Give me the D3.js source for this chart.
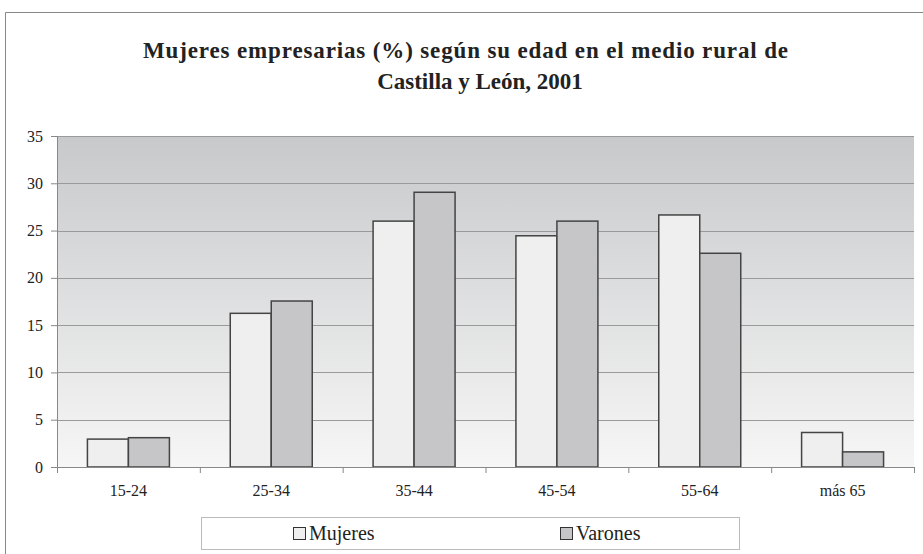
<!DOCTYPE html>
<html>
<head>
<meta charset="utf-8">
<script src="https://cdn.jsdelivr.net/npm/d3@7"></script>
<style>
  body { margin: 0; background: #fff; }
  svg text { font-family: 'Liberation Serif', 'Times New Roman', Tinos, 'DejaVu Serif', serif !important; }
</style>
</head>
<body>
<svg id="chart" width="923" height="554"></svg>
<script>
// age groups and percentages
var categories = ['15-24', '25-34', '35-44', '45-54', '55-64', 'más 65'];
var mujeres = [2.95, 16.25, 26.0, 24.45, 26.65, 3.65];
var varones = [3.1, 17.55, 29.05, 26.0, 22.6, 1.6];
var seriesNames = ['Mujeres', 'Varones'];
var yTicks = [0, 5, 10, 15, 20, 25, 30, 35];

var colors = { Mujeres: '#efefef', Varones: '#c6c6c8' };

var svg = d3.select('#chart');
var margin = { left: 57, right: 9, top: 136, bottom: 87 };
var width = 923 - margin.left - margin.right;
var height = 554 - margin.top - margin.bottom;

// outer frame
svg.append('path')
  .attr('d', 'M5.5,554 L5.5,12.5 L923,12.5')
  .attr('fill', 'none')
  .attr('stroke', '#888')
  .attr('stroke-width', 1);

// title
var title = svg.append('text')
  .attr('font-weight', 'bold')
  .attr('font-size', 23)
  .attr('fill', '#222');
title.append('tspan')
  .attr('x', 143).attr('y', 58)
  .attr('textLength', 645).attr('lengthAdjust', 'spacing')
  .text('Mujeres empresarias (%) según su edad en el medio rural de');
title.append('tspan')
  .attr('x', 480).attr('y', 89)
  .attr('text-anchor', 'middle')
  .text('Castilla y León, 2001');

var g = svg.append('g').attr('transform', 'translate(' + margin.left + ',' + margin.top + ')');

var defs = svg.append('defs');
var grad = defs.append('linearGradient')
  .attr('id', 'bg').attr('x1', 0).attr('y1', 0).attr('x2', 0).attr('y2', 1);
grad.append('stop').attr('offset', '0%').attr('stop-color', '#c8c9cb');
grad.append('stop').attr('offset', '100%').attr('stop-color', '#f6f6f6');

g.append('rect')
  .attr('width', width).attr('height', height)
  .attr('fill', 'url(#bg)');

var x0 = d3.scaleBand().domain(categories).range([0, width]).paddingInner(0).paddingOuter(0);
var x1 = d3.scaleBand().domain(seriesNames).range([0, x0.bandwidth() * 0.574]);
var y = d3.scaleLinear().domain([0, 35]).range([height, 0]);

// gridlines
g.selectAll('.grid')
  .data(yTicks.filter(function(d) { return d > 0; }))
  .enter().append('line')
  .attr('x1', 0).attr('x2', width)
  .attr('y1', function(d) { return Math.round(y(d)) + 0.5; })
  .attr('y2', function(d) { return Math.round(y(d)) + 0.5; })
  .attr('stroke', '#9a9a9a')
  .attr('stroke-width', 1);

// bars
var rows = categories.map(function(c, i) {
  return { cat: c, values: [{ key: 'Mujeres', v: mujeres[i] }, { key: 'Varones', v: varones[i] }] };
});
var groupOffset = (x0.bandwidth() - x1.range()[1]) / 2;

g.selectAll('.grp')
  .data(rows)
  .enter().append('g')
  .attr('transform', function(d) { return 'translate(' + (x0(d.cat) + groupOffset) + ',0)'; })
  .selectAll('rect')
  .data(function(d) { return d.values; })
  .enter().append('rect')
  .attr('x', function(d) { return x1(d.key); })
  .attr('width', x1.bandwidth())
  .attr('y', function(d) { return y(d.v); })
  .attr('height', function(d) { return height - y(d.v); })
  .attr('fill', function(d) { return colors[d.key]; })
  .attr('stroke', '#444')
  .attr('stroke-width', 1.5);

// y axis
var yAxis = g.append('g')
  .call(d3.axisLeft(y).tickValues(yTicks).tickSize(6).tickPadding(8));
yAxis.select('.domain').attr('stroke', '#888');
yAxis.selectAll('.tick line').attr('stroke', '#888');
yAxis.selectAll('text')
  .attr('font-size', 16)
  .attr('fill', '#222');

// x axis with ticks at category boundaries
var xAxis = g.append('g')
  .attr('transform', 'translate(0,' + height + ')')
  .call(d3.axisBottom(x0).tickSize(0).tickPadding(18));
xAxis.select('.domain').attr('stroke', '#888');
xAxis.selectAll('text')
  .attr('font-size', 16)
  .attr('fill', '#222');
xAxis.selectAll('.sep')
  .data(categories.concat(['end']))
  .enter().append('line')
  .attr('x1', function(d, i) { return i * x0.step() + 0.5; })
  .attr('x2', function(d, i) { return i * x0.step() + 0.5; })
  .attr('y1', 0).attr('y2', 6)
  .attr('stroke', '#888');

// legend
var legend = svg.append('g').attr('transform', 'translate(201,517)');
legend.append('rect')
  .attr('x', 0.5).attr('y', 0.5)
  .attr('width', 538).attr('height', 32)
  .attr('fill', '#fff')
  .attr('stroke', '#bbb');
var legendX = { Mujeres: 92, Varones: 359 };
seriesNames.forEach(function(name) {
  var lg = legend.append('g').attr('transform', 'translate(' + legendX[name] + ',0)');
  lg.append('rect')
    .attr('x', 0.5).attr('y', 10.5)
    .attr('width', 12).attr('height', 12)
    .attr('fill', colors[name])
    .attr('stroke', '#333');
  lg.append('text')
    .attr('x', 16).attr('y', 23)
    .attr('font-size', 20)
    .attr('fill', '#222')
    .text(name);
});
</script>
</body>
</html>
